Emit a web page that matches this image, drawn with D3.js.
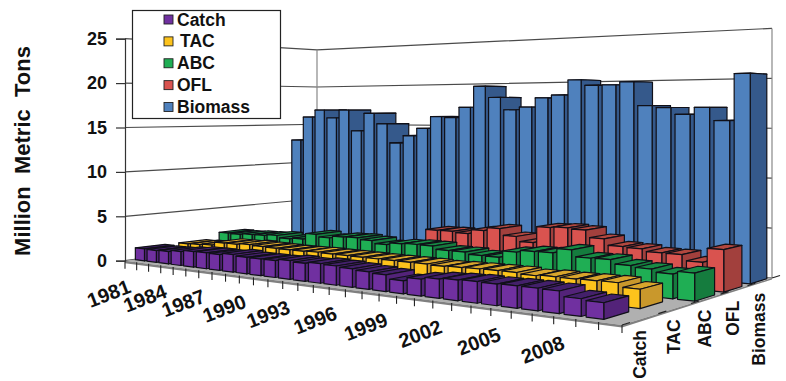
<!DOCTYPE html>
<html>
<head>
<meta charset="utf-8">
<style>
  html, body { margin: 0; padding: 0; background: #fff; }
  svg { display: block; }
  text { font-family: "Liberation Sans", Arial, sans-serif; font-weight: bold; fill: #111; }
</style>
<script src="https://cdnjs.cloudflare.com/ajax/libs/d3/7.8.5/d3.min.js"></script>
</head>
<body>
<svg id="chart" width="786" height="381"></svg>
<script>
// Stock summary in million metric tons per year, five series in depth.
const years = [1981,1982,1983,1984,1985,1986,1987,1988,1989,1990,1991,1992,1993,1994,1995,
               1996,1997,1998,1999,2000,2001,2002,2003,2004,2005,2006,2007,2008,2009,2010];
const yearLabels = [1981,1984,1987,1990,1993,1996,1999,2002,2005,2008];
const seriesNames = ["Catch","TAC","ABC","OFL","Biomass"];
const valueTicks = [0,5,10,15,20,25];

const catchValues = [1.34,1.31,1.36,1.51,1.67,1.69,1.66,1.84,1.70,1.70,1.71,1.87,1.77,1.91,1.86,
                     1.77,1.66,1.56,1.19,1.53,1.73,1.83,1.89,1.86,1.91,1.91,1.88,1.45,1.34,null];
const tacValues   = [1.32,1.39,1.48,1.85,1.87,1.98,1.91,1.88,1.86,1.87,1.93,1.90,1.90,1.89,1.88,
                     1.88,1.88,1.89,1.83,1.90,1.94,1.96,1.97,1.86,1.95,1.93,1.97,2.00,1.64,null];
const abcValues   = [2.03,2.01,2.12,2.16,2.30,2.06,2.16,2.84,2.58,2.82,2.87,2.72,2.43,2.66,2.75,
                     2.74,2.42,2.42,2.23,2.22,2.89,3.11,3.14,3.59,2.96,2.99,2.61,2.48,2.21,2.48];
const oflValues   = [null,null,null,null,null,null,null,null,null,null,null,null,null,3.57,3.60,
                     3.48,3.95,4.30,3.60,3.10,4.80,4.90,4.80,4.07,3.45,3.38,3.15,3.14,2.59,3.93];
const biomassValues = [13.0,16.0,16.9,15.9,16.9,14.3,16.5,15.2,12.9,13.8,14.7,16.1,16.0,17.2,19.6,
                       18.3,16.9,17.2,18.2,18.5,20.1,19.5,19.5,19.8,17.3,17.1,16.4,17.1,15.8,20.4];
const seriesValues = [catchValues, tacValues, abcValues, oflValues, biomassValues];

// front, side and top shades per series
const frontColors = ["#7030a0","#fdc31c","#1fae54","#d9534f","#4f81bd"];
const sideColors  = ["#532379","#c9982c","#157c3e","#a2403d","#35598b"];
const topColors   = ["#43206a","#d8a52c","#178a44","#b2483f","#3b628f"];

const svg = d3.select("#chart");

// Floor corners on screen: front-left, front-right, back-right, back-left.
const floor = [[125,260.7],[622,325],[772,278],[317,236]];
const pixelsPerUnitAtOrigin = 8.88;

// Perspective mapping from the unit floor square to the screen.
const perspective = (() => {
  const [p0,p1,p2,p3] = floor;
  const dx1 = p1[0]-p2[0], dx2 = p3[0]-p2[0], sx = p0[0]-p1[0]+p2[0]-p3[0];
  const dy1 = p1[1]-p2[1], dy2 = p3[1]-p2[1], sy = p0[1]-p1[1]+p2[1]-p3[1];
  const den = dx1*dy2 - dx2*dy1;
  const g = (sx*dy2 - dx2*sy)/den, h = (dx1*sy - sx*dy1)/den;
  const a = p1[0]-p0[0]+g*p1[0], b = p3[0]-p0[0]+h*p3[0];
  const d = p1[1]-p0[1]+g*p1[1], e = p3[1]-p0[1]+h*p3[1];
  return (u, v, height = 0) => {
    const w = 1 + g*u + h*v;
    return [(a*u + b*v + p0[0])/w, (d*u + e*v + p0[1] - height)/w];
  };
})();

const xBand = d3.scaleBand().domain(years).range([0,1]).paddingInner(0.22).paddingOuter(0.11);
const zBand = d3.scaleBand().domain(seriesNames).range([0,1.015]).paddingInner(0.325).paddingOuter(0.2);
const zStep = d3.scaleBand().domain(seriesNames).range([0,1]);
const xStep = d3.scaleBand().domain(years).range([0,1]);
const heightScale = d3.scaleLinear().domain([0,25]).range([0,25*pixelsPerUnitAtOrigin]);

const polygon = pts => d3.line()(pts) + "Z";

// Walls
const walls = svg.append("g").attr("fill","none").attr("stroke","#4a4a4a").attr("stroke-width",1.2);
valueTicks.forEach(t => {
  const h = heightScale(t);
  walls.append("path").attr("d", d3.line()([perspective(0,0,h), perspective(0,1,h), perspective(1,1,h)]));
});
[[0,1],[1,1]].forEach(([u,v]) => {
  walls.append("path").attr("stroke","#888")
    .attr("d", d3.line()([perspective(u,v,0), perspective(u,v,heightScale(25))]));
});

// Floor slab with its lit front edge
const f00 = perspective(0,0), f10 = perspective(1,0), f11 = perspective(1,1), f01 = perspective(0,1);
svg.append("path").attr("d", polygon([f00,f10,f11,f01])).attr("fill","#b0b0b0").attr("stroke","none");
svg.append("path").attr("d", polygon([f00,f10,[f10[0],f10[1]+2.5],[f00[0],f00[1]+2.5]])).attr("fill","#808080");
svg.append("path").attr("d", polygon([f10,f11,[f11[0],f11[1]+1.5],[f10[0],f10[1]+2.5]])).attr("fill","#808080");

// Year and series ticks along the floor edges
const ticks = svg.append("g").attr("stroke","#222").attr("stroke-width",1.1).attr("fill","none");
years.concat([null]).forEach(yr => {
  const u = yr === null ? 1 : xStep(yr);
  const p = perspective(u,0);
  ticks.append("path").attr("d", d3.line()([p,[p[0],p[1]+8]]));
});
seriesNames.concat([null]).forEach(name => {
  const v = name === null ? 1 : zStep(name);
  const p = perspective(1,v);
  ticks.append("path").attr("d", d3.line()([p,[p[0]+8,p[1]-2.5]]));
});

// Bars, far series first and left to right inside each series
const bars = svg.append("g").attr("stroke","#101018").attr("stroke-width",1.2).attr("stroke-linejoin","round");
for (let s = seriesNames.length-1; s >= 0; s--) {
  const name = seriesNames[s];
  const z0 = zBand(name), z1 = z0 + zBand.bandwidth();
  seriesValues[s].forEach((val,i) => {
    if (val === null) return;
    const x0 = xBand(years[i]), x1 = x0 + xBand.bandwidth();
    const h = heightScale(val);
    bars.append("path").attr("fill",topColors[s])
      .attr("d", polygon([perspective(x0,z0,h),perspective(x1,z0,h),perspective(x1,z1,h),perspective(x0,z1,h)]));
    bars.append("path").attr("fill",sideColors[s])
      .attr("d", polygon([perspective(x1,z0,0),perspective(x1,z1,0),perspective(x1,z1,h),perspective(x1,z0,h)]));
    bars.append("path").attr("fill",frontColors[s])
      .attr("d", polygon([perspective(x0,z0,0),perspective(x1,z0,0),perspective(x1,z0,h),perspective(x0,z0,h)]));
  });
}

// Value axis on the left edge
const yAxisScale = d3.scaleLinear().domain([0,25]).range([floor[0][1], floor[0][1]-heightScale(25)]);
const yAxis = svg.append("g").attr("transform",`translate(${floor[0][0]},0)`)
  .call(d3.axisLeft(yAxisScale).tickValues(valueTicks).tickSize(9).tickPadding(9).tickFormat(d3.format("d")));
yAxis.selectAll("path,line").attr("stroke","#333").attr("stroke-width",1.2);
yAxis.selectAll("text").style("font-size","18px").style("font-family",'"Liberation Sans", Arial, sans-serif').attr("fill","#111");

svg.append("text").attr("transform","translate(22,151) rotate(-90)").attr("text-anchor","middle")
  .attr("dominant-baseline","central")
  .style("font-size","22px").style("white-space","pre")
  .text("Million  Metric  Tons");

// Year labels, slanted under the front floor edge
yearLabels.forEach(yr => {
  const p = perspective(xBand(yr)+xBand.bandwidth()/2, 0);
  svg.append("text")
    .attr("transform",`translate(${p[0]-22},${p[1]+32}) rotate(-21)`)
    .attr("text-anchor","middle").attr("dominant-baseline","central")
    .style("font-size","20px").text(yr);
});

// Series labels, upright along the right floor edge
seriesNames.forEach(name => {
  const p = perspective(1, zStep(name)+zStep.bandwidth()/2);
  svg.append("text")
    .attr("transform",`translate(${p[0]-1},${p[1]+11}) rotate(-90)`)
    .attr("text-anchor","end").attr("dominant-baseline","central")
    .style("font-size","17.5px").text(name);
});

// Legend box
const legend = svg.append("g");
legend.append("rect").attr("x",132.5).attr("y",10.5).attr("width",148).attr("height",108)
  .attr("fill","#fff").attr("stroke","#222").attr("stroke-width",1.2);
const legendY = d3.scalePoint().domain(seriesNames).range([19.5,107]);
seriesNames.forEach((name,s) => {
  const y = legendY(name);
  legend.append("rect").attr("x",164).attr("y",y-4.5).attr("width",9).attr("height",9)
    .attr("fill",frontColors[s]).attr("stroke","#222").attr("stroke-width",0.9);
  legend.append("text").attr("x", name === "TAC" ? 180 : 177).attr("y",y)
    .attr("dominant-baseline","central").style("font-size","17.5px").text(name);
});
</script>
</body>
</html>
